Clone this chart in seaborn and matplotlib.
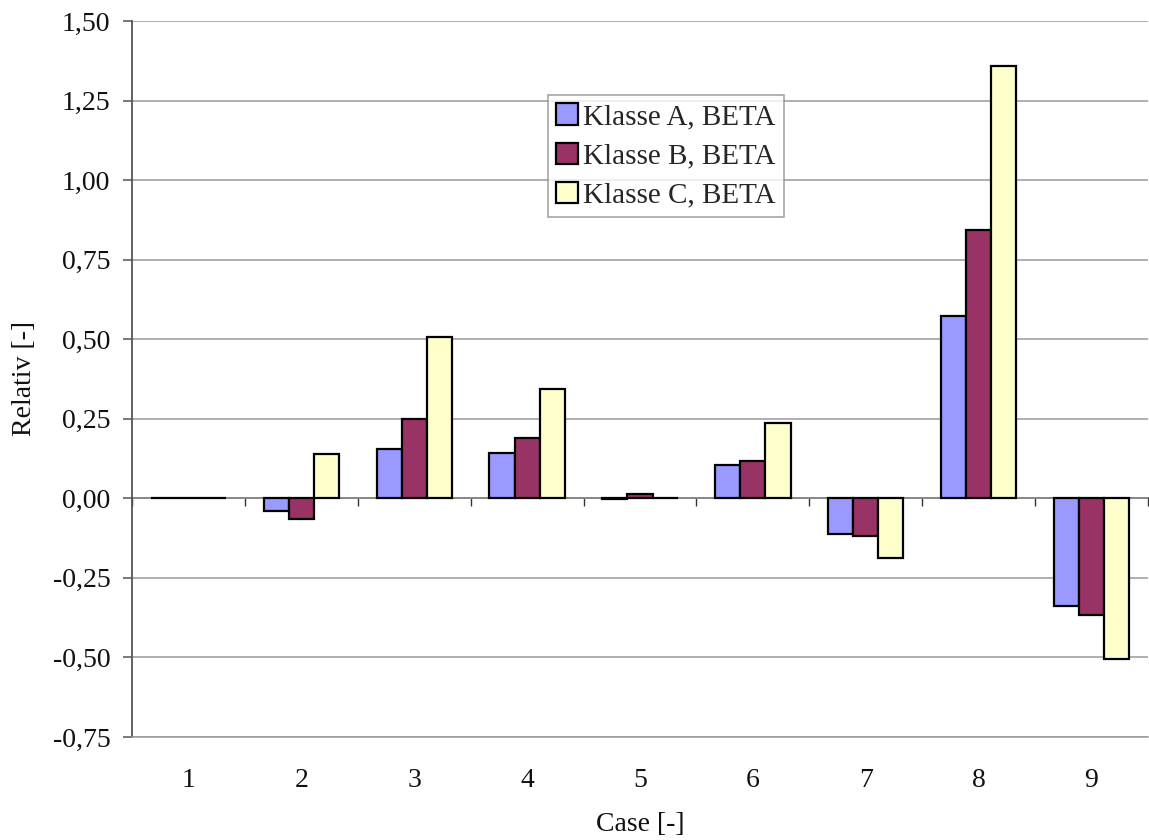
import numpy as np
import pandas as pd
import matplotlib
matplotlib.use("Agg")
import matplotlib.pyplot as plt
from matplotlib.ticker import FuncFormatter, MultipleLocator
import seaborn as sns

cases = ["1", "2", "3", "4", "5", "6", "7", "8", "9"]
series_names = ["Klasse A, BETA", "Klasse B, BETA", "Klasse C, BETA"]
klasse_a = [0.0, -0.040, 0.155, 0.143, -0.003, 0.106, -0.113, 0.572, -0.337]
klasse_b = [0.0, -0.065, 0.248, 0.190, 0.015, 0.117, -0.117, 0.843, -0.368]
klasse_c = [0.0, 0.138, 0.507, 0.343, 0.002, 0.238, -0.186, 1.360, -0.506]
colors = ["#9999FF", "#993366", "#FFFFCC"]

df = pd.DataFrame({
    "Case": cases * 3,
    "Value": klasse_a + klasse_b + klasse_c,
    "Klasse": [series_names[0]] * 9 + [series_names[1]] * 9 + [series_names[2]] * 9,
})

sns.set_style("white")
plt.rcParams["font.family"] = ["Liberation Serif", "DejaVu Serif"]

fig = plt.figure(figsize=(11.49, 8.40), dpi=100)
ax = fig.add_axes([132 / 1149, (840 - 737) / 840, (1148 - 132) / 1149, (737 - 21) / 840])

sns.barplot(data=df, x="Case", y="Value", hue="Klasse", order=cases,
            hue_order=series_names, palette=colors, width=0.667,
            edgecolor="black", linewidth=1.6, errorbar=None, ax=ax,
            saturation=1)

ax.set_ylim(-0.75, 1.5)
ax.set_xlim(-0.5, 8.5)
ax.yaxis.set_major_locator(MultipleLocator(0.25))
ax.yaxis.set_major_formatter(FuncFormatter(lambda v, p: f"{v:.2f}".replace(".", ",")))
ax.grid(axis="y", color="#9a9a9a", linewidth=1.1)
ax.set_axisbelow(True)

for s in ["top", "right"]:
    ax.spines[s].set_visible(False)
ax.spines["left"].set_color("#555555")
ax.spines["left"].set_linewidth(1.3)
ax.spines["bottom"].set_color("#9a9a9a")
ax.spines["bottom"].set_linewidth(1.1)

ax.tick_params(axis="y", which="major", left=True, length=6.5, width=1.1,
               color="#555555", pad=9, labelsize=20, labelcolor="#111111")
ax.tick_params(axis="x", which="major", bottom=False, length=0, pad=22,
               labelsize=20, labelcolor="#111111")

ax.set_ylabel("Relativ [-]", fontsize=20, labelpad=11, color="#111111")
ax.set_xlabel("Case [-]", fontsize=20, labelpad=14, color="#111111")

# zero line with category-boundary tick marks
zero_frac = 0.75 / 2.25
sec = ax.secondary_xaxis(zero_frac)
sec.set_xticks(np.arange(-0.5, 9.0, 1.0))
sec.set_xticklabels([])
sec.tick_params(axis="x", direction="out", length=6, width=1.0, color="#333333")
sec.spines["bottom"].set_color("#222222")
sec.spines["bottom"].set_linewidth(1.1)
for s in ["top", "left", "right"]:
    sec.spines[s].set_visible(False)

leg = ax.legend(loc="upper left", bbox_to_anchor=(0.409, 0.897), fontsize=21,
                frameon=True, fancybox=False, shadow=False, handlelength=0.75,
                handleheight=0.75, handletextpad=0.15, borderpad=0.3,
                labelspacing=0.42, borderaxespad=0, title=None)
leg.get_frame().set_edgecolor("#888888")
leg.get_frame().set_linewidth(1.1)
for h in leg.legend_handles:
    h.set_edgecolor("black")
    h.set_linewidth(1.6)

fig.savefig("out.png", dpi=100)
